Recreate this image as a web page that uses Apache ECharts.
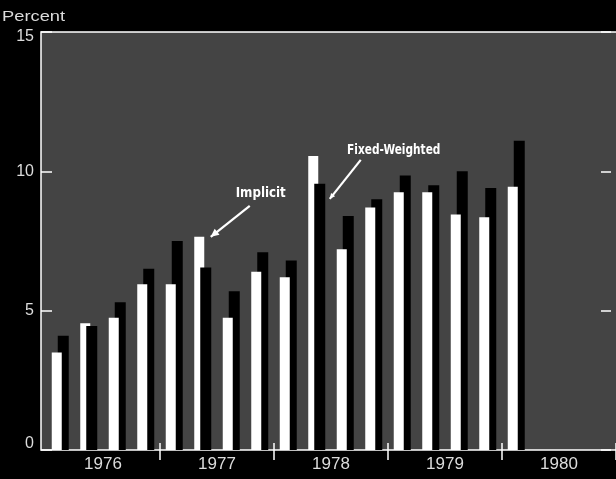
<!DOCTYPE html>
<html>
<head>
<meta charset="utf-8">
<script src="https://cdn.jsdelivr.net/npm/echarts@6/dist/echarts.min.js"></script>
<style>
  html, body { margin: 0; background: #000; }
  #chart { width: 616px; height: 479px; }
</style>
</head>
<body>
<div id="chart"></div>
<script>
// quarterly change, percent (annual rate)
const quarters = [
  '1976Q1', '1976Q2', '1976Q3', '1976Q4',
  '1977Q1', '1977Q2', '1977Q3', '1977Q4',
  '1978Q1', '1978Q2', '1978Q3', '1978Q4',
  '1979Q1', '1979Q2', '1979Q3', '1979Q4',
  '1980Q1', '1980Q2', '1980Q3', '1980Q4'
]
const yearLabels = ['1976', '1977', '1978', '1979', '1980']
const implicit = [
  3.5, 4.55, 4.75, 5.95,
  5.95, 7.65, 4.75, 6.4,
  6.2, 10.55, 7.2, 8.7,
  9.25, 9.25, 8.45, 8.35,
  9.45, null, null, null
]
const fixedWeighted = [
  4.1, 4.45, 5.3, 6.5,
  7.5, 6.55, 5.7, 7.1,
  6.8, 9.55, 8.4, 9.0,
  9.85, 9.5, 10.0, 9.4,
  11.1, null, null, null
]

const chart = echarts.init(document.getElementById('chart'))

// the shorter bar of each pair is drawn in front of the taller one
const backWhite = implicit.map((v, i) => (v != null && v > fixedWeighted[i] ? v : null))
const frontWhite = implicit.map((v, i) => (v != null && v <= fixedWeighted[i] ? v : null))
const backBlack = fixedWeighted.map((v, i) => (v != null && v >= implicit[i] ? v : null))
const frontBlack = fixedWeighted.map((v, i) => (v != null && v < implicit[i] ? v : null))

const textColor = '#dcdcdc'
const font = 'Liberation Sans'
const barCommon = { type: 'bar', barGap: '-40%', silent: true, animation: false }
const frame = {
  type: 'rect',
  z: -10,
  silent: true,
  shape: { x: 41, y: 32, width: 585, height: 418 },
  style: { fill: '#444', stroke: '#fff', lineWidth: 1.5 }
}

chart.setOption({
  backgroundColor: '#000',
  animation: false,
  grid: { left: 46, top: 32, width: 575, height: 418 },
  xAxis: [
    {
      type: 'category',
      data: quarters,
      boundaryGap: true,
      axisLine: { show: false },
      axisLabel: { show: false },
      axisTick: {
        show: true,
        inside: true,
        length: 7,
        interval: (idx) => idx > 0 && idx % 4 === 0,
        lineStyle: { color: '#fff', width: 1.5 }
      }
    },
    {
      type: 'category',
      data: yearLabels,
      position: 'bottom',
      boundaryGap: true,
      axisLine: { show: false },
      axisTick: {
        show: true,
        length: 10,
        interval: (idx) => idx > 0,
        lineStyle: { color: '#fff', width: 1.5 }
      },
      axisLabel: { color: textColor, fontSize: 17, margin: 6, fontFamily: font }
    }
  ],
  yAxis: [
    {
      type: 'value',
      min: 0,
      max: 15,
      interval: 5,
      position: 'left',
      offset: 5,
      axisLine: { show: false },
      splitLine: { show: false },
      axisTick: { show: true, inside: true, length: 11, lineStyle: { color: '#fff', width: 1.5 } },
      axisLabel: {
        color: textColor,
        fontSize: 16,
        margin: 7,
        fontFamily: font,
        // end labels sit inside the frame
        formatter: (v) => (v === 0 ? '{lo|0}' : v === 15 ? '{hi|15}' : String(v)),
        rich: {
          lo: { fontSize: 16, fontFamily: font, color: textColor, padding: [0, 0, 12, 0] },
          hi: { fontSize: 16, fontFamily: font, color: textColor, padding: [10, 0, 0, 0] }
        }
      }
    },
    {
      type: 'value',
      min: 0,
      max: 15,
      interval: 5,
      position: 'right',
      offset: -5,
      axisLine: { show: false },
      splitLine: { show: false },
      axisLabel: { show: false },
      axisTick: { show: true, inside: true, length: 10, lineStyle: { color: '#fff', width: 1.5 } }
    }
  ],
  series: [
    { ...barCommon, name: 'Implicit', stack: 'w', barWidth: 10, data: backWhite, itemStyle: { color: '#fff' } },
    { ...barCommon, name: 'Fixed-Weighted', stack: 'k', barWidth: 11, data: backBlack, itemStyle: { color: '#000' } },
    { ...barCommon, name: 'Implicit', stack: 'w', barWidth: 10, data: frontWhite, itemStyle: { color: '#fff' } },
    { ...barCommon, name: 'Fixed-Weighted', stack: 'k', barWidth: 11, data: frontBlack, itemStyle: { color: '#000' } }
  ]
})

// callouts, placed next to the bars they point at
const arrow = (tip, tail, head) => {
  const a = Math.atan2(tip[1] - tail[1], tip[0] - tail[0])
  return [
    {
      type: 'line', silent: true, z: 20,
      shape: { x1: tail[0], y1: tail[1], x2: tip[0], y2: tip[1] },
      style: { stroke: '#fff', lineWidth: 2.2 }
    },
    {
      type: 'polygon', silent: true, z: 20,
      shape: { points: [
        tip,
        [tip[0] - head * Math.cos(a - 0.45), tip[1] - head * Math.sin(a - 0.45)],
        [tip[0] - head * Math.cos(a + 0.45), tip[1] - head * Math.sin(a + 0.45)]
      ] },
      style: { fill: '#fff' }
    }
  ]
}
const labelFont = 'bold 14px "Liberation Sans Narrow", "DejaVu Sans Condensed", sans-serif'
const pImp = chart.convertToPixel({ xAxisIndex: 0, yAxisIndex: 0 }, ['1977Q2', implicit[5]])
const pFix = chart.convertToPixel({ xAxisIndex: 0, yAxisIndex: 0 }, ['1978Q2', fixedWeighted[9]])

chart.setOption({
  graphic: [
    frame,
    {
      type: 'text', silent: true, z: 20,
      x: 2, y: 17, scaleX: 1.22,
      style: { text: 'Percent', font: '15px "Liberation Sans"', fill: textColor, align: 'left', verticalAlign: 'middle' }
    },
    ...arrow([pImp[0] + 8, pImp[1]], [pImp[0] + 47, pImp[1] - 31], 9),
    {
      type: 'text', silent: true, z: 20,
      x: pImp[0] + 58, y: pImp[1] - 43, scaleX: 0.94,
      style: { text: 'Implicit', font: labelFont, fill: '#fff', align: 'center', verticalAlign: 'middle' }
    },
    ...arrow([pFix[0] + 13, pFix[1] + 15], [pFix[0] + 44, pFix[1] - 24], 6),
    {
      type: 'text', silent: true, z: 20,
      x: pFix[0] + 77, y: pFix[1] - 34, scaleX: 0.84,
      style: { text: 'Fixed-Weighted', font: labelFont, fill: '#fff', align: 'center', verticalAlign: 'middle' }
    }
  ]
})
</script>
</body>
</html>
